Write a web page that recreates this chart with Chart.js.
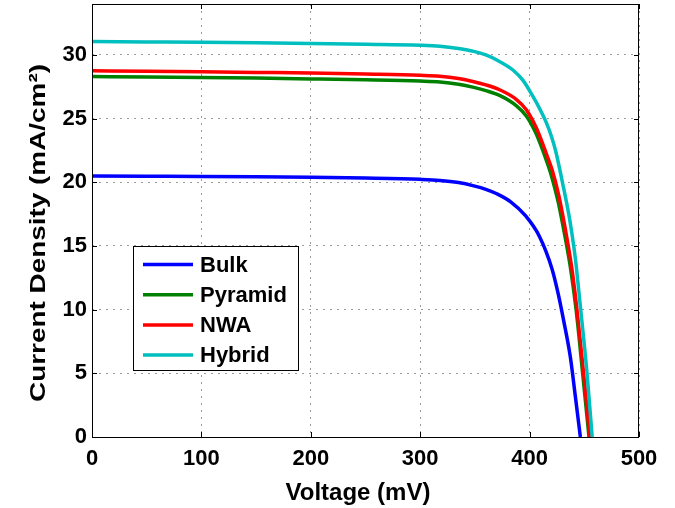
<!DOCTYPE html>
<html>
<head>
<meta charset="utf-8">
<script src="https://cdn.jsdelivr.net/npm/chart.js@4/dist/chart.umd.min.js"></script>
<style>
  html, body { margin: 0; padding: 0; background: #fff; }
  #wrap { width: 675px; height: 508px; position: relative; }
</style>
</head>
<body>
<div id="wrap"><canvas id="c" width="675" height="508"></canvas></div>
<script>
// J-V curves: voltage in mV, current density in mA/cm^2
const bulkV    = [0, 50, 100, 150, 200, 250, 300, 318, 335, 349, 360, 370, 383, 396, 409, 420.5, 426, 431, 437.2, 441.8, 446.4];
const bulkJ    = [20.5, 20.48, 20.46, 20.43, 20.39, 20.33, 20.23, 20.15, 19.98, 19.72, 19.45, 19.1, 18.45, 17.4, 15.75, 13.2, 11.3, 9.2, 6.3, 3.2, 0];

const pyramidV = [0, 50, 100, 150, 200, 250, 300, 318, 335, 349, 360, 373, 388, 397, 406, 415, 420, 426, 432, 437.5, 442.5, 448.5, 454.3];
const pyramidJ = [28.3, 28.27, 28.23, 28.18, 28.12, 28.05, 27.95, 27.88, 27.7, 27.45, 27.2, 26.8, 26.0, 25.2, 23.8, 21.8, 20.5, 18.5, 15.9, 13.2, 10.0, 5.0, 0];

const nwaV     = [0, 50, 100, 150, 200, 250, 300, 318, 335, 349, 360, 373, 388, 397, 406, 415.5, 420.5, 426.6, 432.7, 438.5, 443.3, 449.4, 455];
const nwaJ     = [28.75, 28.72, 28.68, 28.63, 28.58, 28.5, 28.4, 28.33, 28.15, 27.9, 27.65, 27.25, 26.5, 25.7, 24.3, 22.2, 21.0, 19.0, 16.3, 13.3, 10.0, 5.0, 0];

const hybridV  = [0, 50, 100, 150, 200, 250, 300, 318, 335, 349, 360, 370, 385, 394, 402, 410, 415, 420, 424, 430, 436, 440, 442, 446, 452.5, 457.2];
const hybridJ  = [31.05, 31.02, 30.99, 30.95, 30.9, 30.84, 30.76, 30.68, 30.5, 30.28, 30.0, 29.6, 28.8, 28.0, 26.9, 25.65, 24.75, 23.6, 22.4, 20.0, 17.4, 15.2, 13.9, 10.6, 5.0, 0];

const seriesNames = ['Bulk', 'Pyramid', 'NWA', 'Hybrid'];
const xTicks = [0, 100, 200, 300, 400, 500];
const yTicks = [0, 5, 10, 15, 20, 25, 30];
const xTitle = 'Voltage (mV)';
const yTitle = 'Current Density (mA/cm\u00B2)';

const colors = ['#0000ff', '#008000', '#ff0000', '#00bfbf'];
const FONT = '"Liberation Sans", Arial, sans-serif';

function pts(vs, js) { return vs.map((v, i) => ({ x: v, y: js[i] })); }
const curves = [pts(bulkV, bulkJ), pts(pyramidV, pyramidJ), pts(nwaV, nwaJ), pts(hybridV, hybridJ)];

const datasets = curves.map((d, i) => ({
  label: seriesNames[i],
  data: d,
  borderColor: colors[i],
  backgroundColor: colors[i],
  borderWidth: 3.5,
  pointRadius: 0,
  fill: false,
  cubicInterpolationMode: 'monotone',
  order: 4 - i
}));

// frame, inward tick marks, axis titles and the in-plot legend
const framePlugin = {
  id: 'frame',
  afterDatasetsDraw(chart) {
    const { ctx, chartArea: a, scales: { x, y } } = chart;
    ctx.save();
    ctx.strokeStyle = '#000';
    ctx.lineWidth = 1;
    ctx.strokeRect(a.left + 0.5, a.top + 0.5, a.right - a.left - 1, a.bottom - a.top);
    const L = 5;
    ctx.beginPath();
    xTicks.forEach(v => {
      const px = Math.round(x.getPixelForValue(v)) + 0.5;
      ctx.moveTo(px, a.bottom); ctx.lineTo(px, a.bottom - L);
      ctx.moveTo(px, a.top); ctx.lineTo(px, a.top + L);
    });
    yTicks.forEach(v => {
      const py = Math.round(y.getPixelForValue(v)) + 0.5;
      ctx.moveTo(a.left, py); ctx.lineTo(a.left + L, py);
      ctx.moveTo(a.right, py); ctx.lineTo(a.right - L, py);
    });
    ctx.stroke();

    // axis titles
    ctx.fillStyle = '#000';
    ctx.font = 'bold 24px ' + FONT;
    ctx.textAlign = 'center';
    ctx.textBaseline = 'alphabetic';
    ctx.fillText(xTitle, 358, 500);

    ctx.save();
    ctx.translate(45, 233);
    ctx.rotate(-Math.PI / 2);
    ctx.font = 'bold 22px ' + FONT;
    const w = ctx.measureText(yTitle).width;
    ctx.scale(338 / w, 1);
    ctx.fillText(yTitle, 0, 0);
    ctx.restore();

    // legend box
    const bx = 133.5, by = 246.5, bw = 165, bh = 124;
    ctx.fillStyle = '#fff';
    ctx.fillRect(bx, by, bw, bh);
    ctx.strokeStyle = '#000';
    ctx.lineWidth = 1;
    ctx.strokeRect(bx, by, bw, bh);
    ctx.font = 'bold 22px ' + FONT;
    ctx.textBaseline = 'middle';
    ctx.textAlign = 'left';
    chart.data.datasets.forEach((ds, i) => {
      const ly = 264.5 + i * 30.2;
      ctx.strokeStyle = ds.borderColor;
      ctx.lineWidth = 3.5;
      ctx.beginPath();
      ctx.moveTo(143, ly); ctx.lineTo(193, ly);
      ctx.stroke();
      ctx.fillStyle = '#000';
      ctx.fillText(ds.label, 200, ly + 1);
    });
    ctx.restore();
  }
};

new Chart(document.getElementById('c'), {
  type: 'line',
  data: { datasets },
  options: {
    responsive: false,
    animation: false,
    layout: { padding: { left: 0, right: 36, top: 4, bottom: 0 } },
    plugins: { legend: { display: false }, tooltip: { enabled: false } },
    scales: {
      x: {
        type: 'linear',
        min: 0, max: 500,
        afterBuildTicks: s => { s.ticks = xTicks.map(v => ({ value: v })); },
        afterFit: s => { s.height = 71; s.paddingRight = 0; },
        grid: { color: '#9a9a9a', lineWidth: 1, drawTicks: false },
        border: { display: false, dash: [2, 5] },
        ticks: { color: '#000', font: { family: FONT, size: 22, weight: 'bold' }, padding: 9, maxRotation: 0 },
        title: { display: false }
      },
      y: {
        type: 'linear',
        min: 0, max: 34,
        afterBuildTicks: s => { s.ticks = yTicks.map(v => ({ value: v })); },
        afterFit: s => { s.width = 92; s.paddingTop = 0; s.paddingBottom = 0; },
        grid: { color: '#9a9a9a', lineWidth: 1, drawTicks: false },
        border: { display: false, dash: [2, 5] },
        ticks: { color: '#000', font: { family: FONT, size: 22, weight: 'bold' }, padding: 5 },
        title: { display: false }
      }
    }
  },
  plugins: [framePlugin]
});
</script>
</body>
</html>
